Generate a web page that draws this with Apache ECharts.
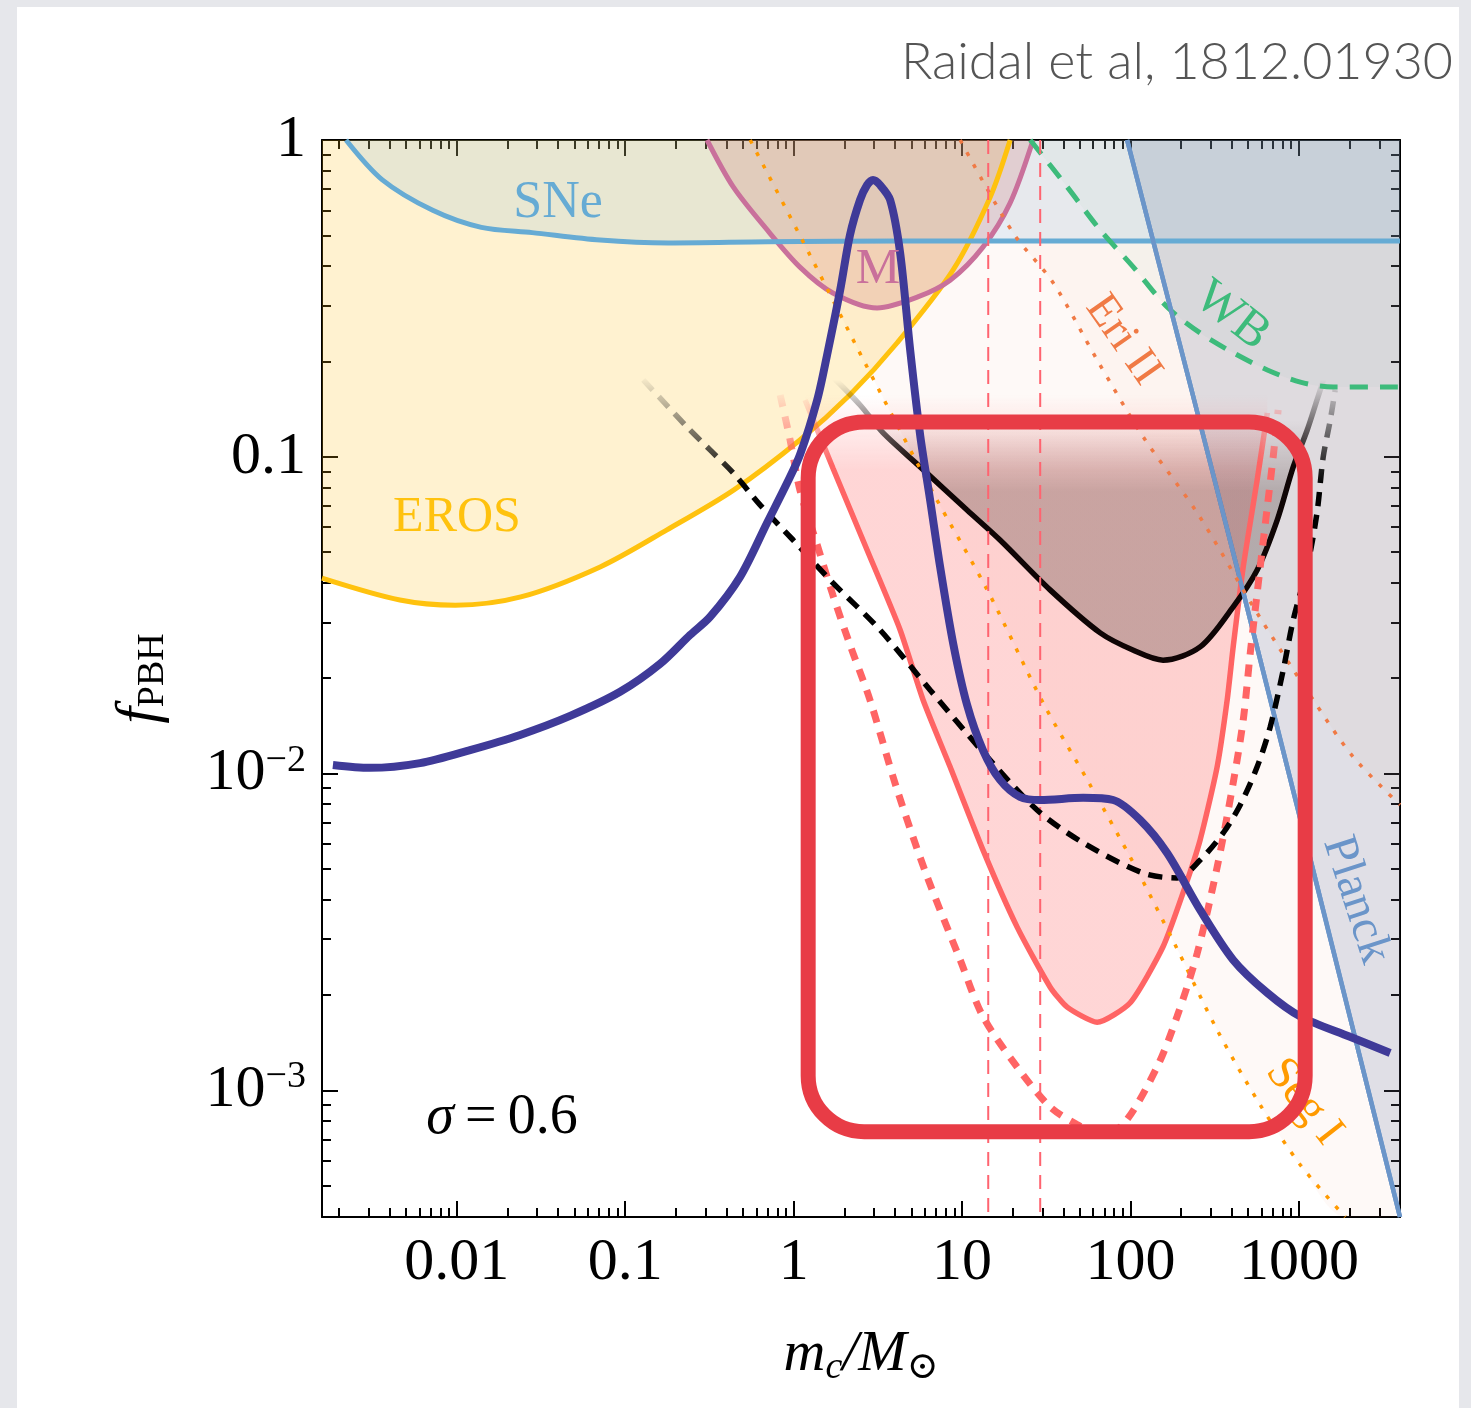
<!DOCTYPE html>
<html>
<head>
<meta charset="utf-8">
<script src="https://cdn.jsdelivr.net/npm/echarts@6/dist/echarts.min.js"></script>
<style>
  html, body { margin: 0; padding: 0; background: #e6e7eb; }
  #card { position: absolute; left: 17px; top: 7px; width: 1442px; height: 1401px; background: #ffffff; }
  #chart { position: absolute; left: 0; top: 0; width: 1471px; height: 1408px; }
</style>
</head>
<body>
<div id="card"></div>
<div id="chart"></div>
<script>
// ---- axis ticks ----
const xMajorTicks = [0.01, 0.1, 1, 10, 100, 1000];
const xTickLabels = ['0.01', '0.1', '1', '10', '100', '1000'];
const yMajorTicks = [0.001, 0.01, 0.1, 1];
const yTickLabels = ['10{sup|−3}', '10{sup|−2}', '0.1', '1'];

// ---- constraint curves: mass m_c/M_sun and f_PBH ----
const sneMass = [0.0022, 0.0036, 0.0072, 0.014, 0.028, 0.071, 0.18, 0.70, 4.3, 3980];
const sneFrac = [1.0, 0.75, 0.60, 0.53, 0.51, 0.483, 0.473, 0.477, 0.48, 0.48];

const erosMass = [0.001585, 0.0046, 0.0098, 0.024, 0.071, 0.177, 0.44, 1.09, 2.16, 4.12, 8.85, 14.7, 19.3];
const erosFrac = [0.0414, 0.0353, 0.0340, 0.0361, 0.0449, 0.0588, 0.0785, 0.113, 0.157, 0.229, 0.389, 0.661, 1.0];

const m31Mass = [0.306, 0.438, 0.697, 1.09, 1.71, 3.13, 5.41, 8.5, 13.3, 19.3, 26.4];
const m31Frac = [1.0, 0.711, 0.520, 0.397, 0.329, 0.295, 0.319, 0.361, 0.459, 0.633, 1.0];

const wbMass = [25.4, 42.1, 66, 104, 165, 259, 407, 649, 1020, 1600, 3980];
const wbFrac = [1.0, 0.711, 0.520, 0.397, 0.297, 0.246, 0.213, 0.188, 0.172, 0.166, 0.166];

const planckMass = [95.5, 448, 3980];
const planckFrac = [1.0, 0.0408, 0.000398];

const segMass = [0.552, 1.25, 2.73, 6.73, 14.1, 30.3, 57.6, 104, 184, 327, 589, 1020, 1884];
const segFrac = [1.0, 0.4335, 0.192, 0.0769, 0.0380, 0.0167, 0.0092, 0.00522, 0.00288, 0.00155, 0.000899, 0.000581, 0.000398];

const eriMass = [9.75, 20.1, 34.8, 63.4, 119, 249, 565, 1216, 2100, 3980];
const eriFrac = [1.0, 0.509, 0.3536, 0.2021, 0.1155, 0.0665, 0.0321, 0.01707, 0.01128, 0.00796];

// ---- merger-rate bounds ----
const solidRedMass = [1.17, 1.71, 2.73, 4.29, 5.87, 8.49, 13.3, 21.2, 33.3, 42.1, 63.4, 99.6, 156, 205, 259, 327, 375, 407, 467, 565, 649];
const solidRedFrac = [0.1511, 0.0922, 0.0508, 0.0284, 0.01707, 0.0105, 0.00574, 0.00328, 0.00212, 0.00183, 0.00164, 0.00189, 0.00284, 0.0042, 0.00617, 0.0105, 0.01707, 0.0251, 0.0449, 0.0845, 0.1375];

const dashRedMass = [0.832, 0.953, 1.09, 1.38, 1.71, 2.16, 2.84, 4.12, 6.21, 9.75, 13.3, 21.2, 33.3, 48.2, 66.1, 90.4, 144, 189, 249, 327, 407, 467, 514, 589, 649, 703, 753];
const dashRedFrac = [0.1567, 0.113, 0.0785, 0.0527, 0.0366, 0.0255, 0.01707, 0.00887, 0.00472, 0.00258, 0.00171, 0.001186, 0.000887, 0.00078, 0.000725, 0.00078, 0.001186, 0.00171, 0.00271, 0.00507, 0.00934, 0.01476, 0.0240, 0.0449, 0.0695, 0.0998, 0.1406];

const solidBlackMass = [1.71, 2.48, 3.40, 5.64, 10.7, 16.8, 33.3, 66.1, 104, 156, 259, 407, 565, 743, 925, 1120, 1280, 1430];
const solidBlackFrac = [0.1786, 0.1457, 0.1189, 0.0929, 0.0679, 0.0546, 0.0380, 0.0278, 0.0245, 0.0228, 0.0251, 0.0336, 0.0439, 0.0631, 0.0929, 0.1215, 0.1511, 0.1813];

const dashBlackMass = [0.128, 0.233, 0.319, 0.438, 0.632, 0.993, 1.71, 3.26, 6.46, 13.3, 27.9, 52.4, 119, 189, 259, 355, 448, 565, 675, 807, 925, 1120, 1280, 1393, 1535, 1641];
const dashBlackFrac = [0.1748, 0.1242, 0.1051, 0.0889, 0.0705, 0.0546, 0.0400, 0.0284, 0.01836, 0.0117, 0.00767, 0.00604, 0.00485, 0.00468, 0.00533, 0.00649, 0.00796, 0.0105, 0.01403, 0.02123, 0.03055, 0.0449, 0.0665, 0.0998, 0.1306, 0.1625];

// ---- PBH abundance for the lognormal mass function, sigma = 0.6 ----
const pbhMass = [0.00184, 0.00305, 0.00605, 0.0120, 0.0238, 0.0471, 0.0933, 0.161, 0.243, 0.319, 0.481, 0.695, 0.914, 1.09, 1.38, 1.58, 1.89, 2.16, 2.48, 2.73, 2.96, 3.26, 3.74, 4.29, 4.92, 5.64, 6.46, 7.41, 8.85, 10.7, 13.3, 16.8, 22.1, 29.1, 52.4, 78.9, 114, 165, 259, 407, 649, 1020, 2010, 3480];
const pbhFrac = [0.01064, 0.01042, 0.01079, 0.01186, 0.01324, 0.0152, 0.01811, 0.02218, 0.02739, 0.03121, 0.04178, 0.0618, 0.0826, 0.1013, 0.1511, 0.2096, 0.336, 0.501, 0.647, 0.721, 0.748, 0.721, 0.647, 0.440, 0.217, 0.117, 0.0731, 0.0449, 0.0258, 0.0165, 0.01186, 0.00955, 0.00843, 0.00825, 0.00838, 0.00825, 0.00714, 0.00561, 0.00371, 0.00258, 0.00203, 0.00171, 0.001475, 0.001312];

// LIGO/Virgo reference masses (vertical guides)
const guideMass = [14.3, 29.1];

// highlighted window (data units)
const boxMass = [1.22, 1089];
const boxFrac = [0.1288, 0.00074];

// ---- layout ----
const X_MIN = Math.pow(10, -2.8), X_MAX = Math.pow(10, 3.6);
const Y_MIN = Math.pow(10, -3.4), Y_MAX = 1;
const GRID = { left: 322, top: 140, width: 1078, height: 1077 };
const SERIF = '"Liberation Serif", "DejaVu Serif", serif';

function pairs(ms, fs) { return ms.map((m, i) => [m, fs[i]]); }
function minorTicks(lo, hi) {
  const out = [];
  for (let e = -4; e <= 3; e++) {
    for (let k = 2; k <= 9; k++) {
      const v = k * Math.pow(10, e);
      if (v >= lo && v <= hi) out.push(v);
    }
  }
  return out;
}
function labelFor(v, ticks, labels) {
  const e = Math.round(Math.log10(v));
  const i = ticks.findIndex(t => Math.round(Math.log10(t)) === e);
  return i >= 0 ? labels[i] : '';
}
function yPix(f) {
  return GRID.top + GRID.height * (Math.log10(Y_MAX) - Math.log10(f)) / (Math.log10(Y_MAX) - Math.log10(Y_MIN));
}
// vertical fade: colour c0 above fTop, c1 below fBottom
function vFade(c0, c1, fTop, fBottom) {
  return new echarts.graphic.LinearGradient(0, yPix(fTop), 0, yPix(fBottom),
    [{ offset: 0, color: c0 }, { offset: 1, color: c1 }], true);
}

const xMinor = minorTicks(X_MIN, X_MAX);
const yMinor = minorTicks(Y_MIN, Y_MAX);

const tickLine = { color: '#000', width: 2 };
function xAxisDef(pos, major) {
  const a = {
    type: 'log', logBase: 10, gridIndex: 0, position: pos, min: X_MIN, max: X_MAX,
    axisLine: { show: major, onZero: false, lineStyle: { color: '#000', width: 2 } },
    axisTick: { show: true, inside: true, length: major ? 16 : 9, lineStyle: tickLine,
                customValues: major ? xMajorTicks : xMinor },
    axisLabel: { show: false },
    splitLine: { show: false }
  };
  if (major && pos === 'bottom') {
    a.axisLabel = {
      show: true, customValues: xMajorTicks, margin: 16, color: '#000',
      fontFamily: SERIF, fontSize: 60,
      formatter: v => labelFor(v, xMajorTicks, xTickLabels)
    };
    a.name = '{i|m}{sub|c}{i|/M}{sub|⊙}';
    a.nameLocation = 'middle';
    a.nameGap = 106;
    a.nameTextStyle = {
      rich: {
        i: { fontFamily: SERIF, fontStyle: 'italic', fontSize: 58, color: '#000', lineHeight: 64 },
        sub: { fontFamily: SERIF, fontStyle: 'italic', fontSize: 38, color: '#000', lineHeight: 44, verticalAlign: 'bottom' }
      }
    };
  }
  return a;
}
function yAxisDef(pos, major) {
  const a = {
    type: 'log', logBase: 10, gridIndex: 0, position: pos, min: Y_MIN, max: Y_MAX,
    axisLine: { show: major, onZero: false, lineStyle: { color: '#000', width: 2 } },
    axisTick: { show: true, inside: true, length: major ? 16 : 9, lineStyle: tickLine,
                customValues: major ? yMajorTicks : yMinor },
    axisLabel: { show: false },
    splitLine: { show: false }
  };
  if (major && pos === 'left') {
    a.axisLabel = {
      show: true, customValues: yMajorTicks, margin: 16, color: '#000',
      formatter: v => labelFor(v, yMajorTicks, yTickLabels),
      rich: {
        sup: { fontFamily: SERIF, fontSize: 38, color: '#000', lineHeight: 34, verticalAlign: 'top' }
      },
      fontFamily: SERIF, fontSize: 60, lineHeight: 64
    };
    a.name = '{f|f}{sub|PBH}';
    a.nameLocation = 'middle';
    a.nameRotate = 90;
    a.nameGap = 150;
    a.nameTextStyle = {
      rich: {
        f: { fontFamily: SERIF, fontStyle: 'italic', fontSize: 60, color: '#000', lineHeight: 64 },
        sub: { fontFamily: SERIF, fontSize: 38, color: '#000', lineHeight: 40, verticalAlign: 'bottom' }
      }
    };
  }
  return a;
}

function areaSeries(name, data, fill, lineColor, lineWidth) {
  return {
    name, type: 'line', data, showSymbol: false, smooth: 0.3,
    areaStyle: { origin: 'end', color: fill, opacity: 1 },
    lineStyle: lineColor ? { color: lineColor, width: lineWidth } : { width: 0 },
    z: 2
  };
}
function lineSeries(name, ms, fs, color, width, type, smooth, z) {
  return {
    name, type: 'line', data: pairs(ms, fs), showSymbol: false, smooth: smooth,
    lineStyle: { color, width, type: type || 'solid' }, z: z || 3
  };
}

const series = [
  // filled exclusion regions (Seg I closes along the lower axis to the right edge)
  areaSeries('Seg I region', pairs(segMass, segFrac).concat([[X_MAX, Y_MIN]]), 'rgba(245,130,90,0.05)'),
  areaSeries('Eri II region', pairs(eriMass, eriFrac), 'rgba(240,120,70,0.04)'),
  areaSeries('EROS', pairs(erosMass, erosFrac), 'rgba(255,190,20,0.2)', '#ffc20e', 5),
  areaSeries('SNe', pairs(sneMass, sneFrac), 'rgba(100,170,220,0.15)'),
  areaSeries('M', pairs(m31Mass, m31Frac), 'rgba(200,110,110,0.22)', '#c9709b', 5),
  areaSeries('WB region', pairs(wbMass, wbFrac), 'rgba(120,180,150,0.06)'),
  areaSeries('Planck', pairs(planckMass, planckFrac), 'rgba(80,95,140,0.17)', '#6b95c9', 4.5),
  // merger bounds with faded tops
  {
    name: 'merger bound', type: 'line', data: pairs(solidRedMass, solidRedFrac), showSymbol: false, smooth: 0.2,
    areaStyle: { origin: 'end', color: vFade('rgba(255,90,90,0)', 'rgba(255,90,90,0.25)', 0.157, 0.091), opacity: 1 },
    lineStyle: { width: 5.5, color: vFade('rgba(255,100,100,0)', 'rgba(255,100,100,1)', 0.16, 0.095) }, z: 3
  },
  {
    name: 'merger bound 2', type: 'line', data: pairs(solidBlackMass, solidBlackFrac), showSymbol: false, smooth: 0.3,
    areaStyle: { origin: 'end', color: vFade('rgba(80,60,55,0)', 'rgba(80,60,55,0.3)', 0.13, 0.078), opacity: 1 },
    lineStyle: { width: 5.5, color: vFade('rgba(0,0,0,0)', 'rgba(15,5,5,1)', 0.175, 0.094) }, z: 3
  },
  // constraint lines
  lineSeries('SNe line', sneMass, sneFrac, '#66abd4', 5, 'solid', 0.3, 4),
  lineSeries('WB', wbMass, wbFrac, '#3dbb7b', 5, [18, 12], 0.3, 4),
  lineSeries('Planck line', planckMass, planckFrac, '#6b95c9', 4.5, 'solid', 0.3, 4),
  lineSeries('Seg I', segMass, segFrac, '#ff9a00', 3.5, [4, 10], 0.3, 4),
  lineSeries('Eri II', eriMass, eriFrac, '#f07a45', 3.5, [4, 10], 0.3, 4),
  lineSeries('guide 1', [guideMass[0], guideMass[0]], [Y_MAX, Y_MIN], '#ff6470', 2, [14, 9], false, 4),
  lineSeries('guide 2', [guideMass[1], guideMass[1]], [Y_MAX, Y_MIN], '#ff6470', 2, [14, 9], false, 4),
  {
    name: 'projected red', type: 'line', data: pairs(dashRedMass, dashRedFrac), showSymbol: false, smooth: 0.3,
    lineStyle: { width: 7, type: [12, 10], color: vFade('rgba(255,100,100,0)', 'rgba(255,100,100,1)', 0.168, 0.091) }, z: 5
  },
  {
    name: 'projected black', type: 'line', data: pairs(dashBlackMass, dashBlackFrac), showSymbol: false, smooth: 0.3,
    lineStyle: { width: 5.5, type: [14, 9], color: vFade('rgba(0,0,0,0)', 'rgba(0,0,0,1)', 0.181, 0.0815) }, z: 5
  },
  // PBH abundance
  lineSeries('sigma 0.6', pbhMass, pbhFrac, '#3f3a98', 8, 'solid', 0.3, 6)
];

const chart = echarts.init(document.getElementById('chart'));
chart.setOption({
  animation: false,
  backgroundColor: 'transparent',
  grid: { left: GRID.left, top: GRID.top, width: GRID.width, height: GRID.height, containLabel: false },
  xAxis: [xAxisDef('bottom', true), xAxisDef('bottom', false), xAxisDef('top', true), xAxisDef('top', false)],
  yAxis: [yAxisDef('left', true), yAxisDef('left', false), yAxisDef('right', true), yAxisDef('right', false)],
  series: series
});

// overlays that depend on the axis mapping
const p0 = chart.convertToPixel({ gridIndex: 0 }, [boxMass[0], boxFrac[0]]);
const p1 = chart.convertToPixel({ gridIndex: 0 }, [boxMass[1], boxFrac[1]]);

function label(text, x, y, color, size, angleDeg) {
  return {
    type: 'text', x, y, z: 100, rotation: (angleDeg || 0) * Math.PI / 180,
    style: { text, fill: color, fontFamily: SERIF, fontSize: size, align: 'center', verticalAlign: 'middle' }
  };
}

chart.setOption({
  graphic: [
    {
      type: 'rect', z: 120,
      shape: { x: p0[0], y: p0[1], width: p1[0] - p0[0], height: p1[1] - p0[1], r: 56 },
      style: { fill: 'none', stroke: '#e83c46', lineWidth: 15 }
    },
    label('SNe', 558, 203, '#66abd4', 52),
    label('EROS', 457, 518, '#ffc20e', 50),
    label('M', 878, 270, '#c9709b', 50),
    label('Eri II', 1123, 340, '#f07a45', 46, -55),
    label('WB', 1232, 316, '#3dbb7b', 50, -38),
    label('Planck', 1356, 900, '#6b95c9', 48, -72),
    label('Seg I', 1304, 1102, '#ff9a00', 46, -52),
    {
      type: 'text', x: 502, y: 1118, z: 100,
      style: {
        text: '{s|σ}{n|\u2009=\u20090.6}', align: 'center', verticalAlign: 'middle',
        rich: {
          s: { fontFamily: SERIF, fontStyle: 'italic', fontSize: 56, fill: '#000' },
          n: { fontFamily: SERIF, fontSize: 56, fill: '#000' }
        }
      }
    },
    {
      type: 'text', x: 1453, y: 62, z: 100,
      style: { text: 'Raidal et al, 1812.01930', fill: '#555', fontFamily: 'Lato, "Open Sans", sans-serif',
               fontWeight: 300, fontSize: 52, align: 'right', verticalAlign: 'middle' }
    }
  ]
});
</script>
</body>
</html>
